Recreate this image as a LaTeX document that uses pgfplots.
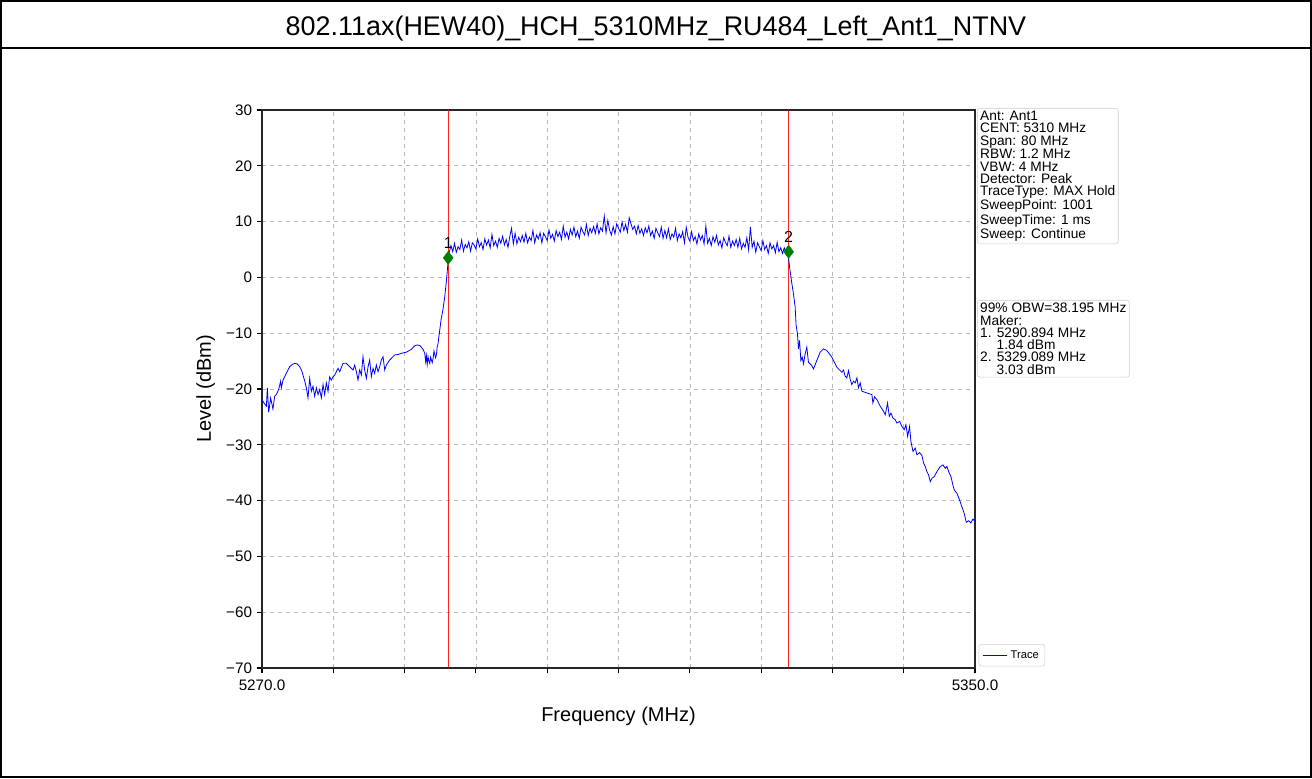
\documentclass[border=0pt]{standalone}
\usepackage{pgfplots}
\usepackage{pgfplotstable}
\pgfplotsset{compat=1.18}
\usepackage{fontspec}
\setmainfont{Liberation Sans}

\pgfplotstableread{
f db
5270.00 -21.9
5270.22 -22.5
5270.49 -23.1
5270.60 -19.8
5270.75 -24.2
5270.97 -21.6
5271.23 -23.6
5271.42 -21.3
5271.61 -21.0
5271.87 -20.1
5272.09 -18.6
5272.17 -19.8
5272.36 -18.4
5272.73 -17.2
5273.11 -16.0
5273.40 -15.6
5273.67 -15.4
5273.95 -15.5
5274.23 -16.0
5274.45 -16.7
5274.60 -17.5
5274.80 -18.6
5274.98 -19.8
5275.16 -21.6
5275.35 -18.1
5275.54 -20.4
5275.72 -19.5
5275.91 -21.3
5276.10 -19.8
5276.29 -21.0
5276.47 -20.1
5276.66 -21.6
5276.85 -19.2
5277.03 -21.0
5277.22 -18.9
5277.41 -20.4
5277.59 -17.8
5277.78 -18.4
5277.97 -17.8
5278.16 -17.5
5278.34 -16.9
5278.53 -16.3
5278.72 -16.9
5279.09 -15.4
5279.46 -15.4
5279.84 -16.0
5280.21 -16.6
5280.40 -15.7
5280.59 -16.9
5280.77 -18.4
5280.96 -16.6
5281.15 -17.5
5281.33 -14.2
5281.52 -16.6
5281.71 -18.1
5281.90 -16.0
5282.08 -14.8
5282.27 -17.8
5282.46 -16.3
5282.64 -17.2
5282.83 -15.7
5283.02 -16.9
5283.21 -16.0
5283.39 -14.8
5283.58 -14.2
5283.77 -16.6
5283.95 -15.7
5284.33 -14.8
5284.89 -13.9
5285.30 -13.8
5285.64 -13.6
5286.20 -13.4
5286.76 -12.9
5287.10 -12.3
5287.40 -12.1
5287.70 -12.2
5287.88 -12.5
5288.10 -13.0
5288.26 -13.6
5288.36 -15.1
5288.44 -14.0
5288.54 -15.6
5288.63 -14.2
5288.73 -15.0
5288.82 -15.4
5288.92 -14.3
5289.01 -14.8
5289.10 -15.3
5289.19 -14.6
5289.30 -13.2
5289.38 -13.8
5289.47 -14.4
5289.57 -13.9
5289.66 -12.4
5289.75 -11.9
5289.85 -10.6
5289.94 -9.5
5290.10 -7.5
5290.30 -5.8
5290.50 -3.5
5290.70 -0.5
5290.85 2.3
5291.00 4.4
5291.2 5.7
5291.4 4.6
5291.6 6.1
5291.8 4.5
5292.0 5.5
5292.2 5.0
5292.4 6.7
5292.6 4.7
5292.8 5.9
5293.0 5.3
5293.2 6.4
5293.4 4.7
5293.6 6.2
5293.8 5.8
5294.0 5.1
5294.2 6.9
5294.4 5.5
5294.6 6.2
5294.8 5.0
5295.0 6.9
5295.2 5.8
5295.4 6.7
5295.6 5.3
5295.8 7.7
5296.0 5.7
5296.2 6.5
5296.4 5.4
5296.6 7.0
5296.8 6.1
5297.0 7.4
5297.2 5.8
5297.4 6.8
5297.6 5.4
5297.8 7.3
5298.0 8.8
5298.2 6.0
5298.4 7.9
5298.6 6.0
5298.8 7.2
5299.0 6.4
5299.2 7.5
5299.4 6.3
5299.6 7.9
5299.8 6.2
5300.0 7.2
5300.2 6.6
5300.4 8.4
5300.6 6.2
5300.8 7.6
5301.0 6.9
5301.2 8.0
5301.4 6.2
5301.6 7.9
5301.8 7.3
5302.0 6.6
5302.2 8.5
5302.4 7.0
5302.6 7.7
5302.8 6.5
5303.0 8.4
5303.2 7.3
5303.4 8.1
5303.6 6.8
5303.8 9.2
5304.0 7.2
5304.2 8.1
5304.4 6.9
5304.6 8.6
5304.8 7.6
5305.0 9.0
5305.2 7.3
5305.4 8.3
5305.6 7.0
5305.8 9.0
5306.0 8.2
5306.2 7.6
5306.4 9.5
5306.6 7.5
5306.8 8.8
5307.0 8.0
5307.2 9.1
5307.4 7.9
5307.6 9.6
5307.8 7.8
5308.0 8.9
5308.2 8.3
5308.4 11.0
5308.6 8.0
5308.8 10.2
5309.0 8.5
5309.2 7.6
5309.4 9.1
5309.6 7.8
5309.8 9.6
5310.0 8.8
5310.2 8.1
5310.4 9.9
5310.6 8.4
5310.8 9.5
5311.0 8.1
5311.2 10.7
5311.4 9.6
5311.6 8.6
5311.8 9.2
5312.0 7.8
5312.2 9.3
5312.4 7.9
5312.6 8.7
5312.8 7.5
5313.0 8.9
5313.2 8.0
5313.4 9.2
5313.6 7.5
5313.8 8.3
5314.0 7.0
5314.2 8.8
5314.4 8.0
5314.6 7.3
5314.8 9.0
5315.0 7.0
5315.2 8.4
5315.4 7.1
5315.6 8.7
5315.8 6.8
5316.0 7.8
5316.2 7.2
5316.4 8.8
5316.6 6.6
5316.8 7.8
5317.0 7.1
5317.2 8.2
5317.4 6.2
5317.6 9.0
5317.8 7.2
5318.0 6.5
5318.2 8.2
5318.4 6.6
5318.6 7.3
5318.8 6.0
5319.0 7.8
5319.2 6.7
5319.4 7.5
5319.6 6.0
5319.8 9.2
5320.0 6.1
5320.2 7.0
5320.4 5.7
5320.6 7.3
5320.8 6.3
5321.0 7.5
5321.2 5.8
5321.4 6.6
5321.6 5.3
5321.8 7.1
5322.0 6.3
5322.2 5.7
5322.4 7.4
5322.6 5.4
5322.8 6.5
5323.0 5.7
5323.2 6.8
5323.4 5.4
5323.6 7.0
5323.8 5.1
5324.0 6.1
5324.2 5.4
5324.4 7.1
5324.6 4.9
5324.8 9.0
5325.0 5.4
5325.2 6.5
5325.4 4.5
5325.6 6.2
5325.8 5.5
5326.0 4.8
5326.2 6.6
5326.4 5.0
5326.6 5.7
5326.8 4.3
5327.0 6.2
5327.2 5.1
5327.4 5.7
5327.6 4.4
5327.8 6.3
5328.0 4.6
5328.2 5.3
5328.4 4.3
5328.6 5.3
5328.8 4.6
5329.00 4.6
5329.19 1.9
5329.45 -1.1
5329.63 -2.9
5329.82 -5.3
5329.93 -8.6
5330.08 -10.1
5330.19 -12.8
5330.31 -11.3
5330.46 -14.9
5330.61 -14.3
5330.76 -15.5
5330.94 -13.7
5331.13 -12.5
5331.31 -15.2
5331.50 -15.5
5331.69 -15.8
5331.88 -16.4
5332.25 -14.9
5332.63 -13.4
5333.00 -12.8
5333.37 -13.1
5333.94 -14.3
5334.50 -16.1
5335.06 -17.0
5335.25 -16.6
5335.43 -17.7
5335.62 -18.0
5335.81 -16.7
5336.00 -18.3
5336.18 -19.2
5336.37 -18.6
5336.56 -18.9
5336.75 -18.0
5336.93 -19.8
5337.12 -18.9
5337.31 -20.4
5337.87 -20.7
5338.43 -21.0
5338.54 -22.5
5338.73 -21.4
5338.99 -21.9
5339.37 -23.1
5339.74 -24.0
5339.93 -24.6
5340.19 -22.5
5340.38 -24.9
5340.57 -24.3
5340.79 -25.2
5341.05 -25.5
5341.24 -26.1
5341.54 -25.8
5341.80 -26.7
5342.06 -27.3
5342.25 -26.4
5342.44 -28.5
5342.66 -26.7
5342.81 -29.4
5343.04 -31.2
5343.30 -30.6
5343.48 -31.8
5343.78 -31.4
5344.04 -31.9
5344.23 -33.3
5344.42 -33.9
5344.60 -34.8
5344.79 -35.4
5344.98 -36.6
5345.17 -36.0
5345.43 -35.7
5345.73 -34.8
5346.10 -33.9
5346.40 -33.6
5346.66 -34.2
5346.85 -33.9
5347.04 -34.8
5347.30 -35.7
5347.52 -37.2
5347.67 -38.1
5347.97 -38.7
5348.27 -39.9
5348.53 -41.1
5348.79 -42.3
5349.02 -43.9
5349.28 -43.6
5349.54 -44.0
5349.77 -43.3
5349.91 -43.6
5350.00 -43.4
}\trace

\begin{document}
\begin{tikzpicture}
\useasboundingbox (0,0) rectangle (984pt,583.5pt);
\draw[line width=1.3pt] (0.65pt,0.65pt) rectangle (983.35pt,582.85pt);
\draw[line width=1.3pt] (0,547.5pt) -- (984pt,547.5pt);
\node[font=\fontsize{20.2}{24}\selectfont] at (492pt,562pt) {802.11ax(HEW40)\_HCH\_5310MHz\_RU484\_Left\_Ant1\_NTNV};

\begin{axis}[
  at={(196.5pt,82.5pt)}, anchor=south west,
  scale only axis, width=534.75pt, height=418.5pt,
  xmin=5270, xmax=5350, ymin=-70, ymax=30,
  xtick={5270,5278,...,5350},
  xticklabels={5270.0,,,,,,,,,,5350.0},
  ytick={-70,-60,...,30},
  yticklabels={−70,−60,−50,−40,−30,−20,−10,0,10,20,30},
  xtick pos=bottom, ytick pos=left,
  tick align=outside,
  major tick length=4pt,
  tick style={black, line width=0.8pt},
  axis line style={black!85, line width=1pt},
  grid=major,
  major grid style={gray!55, dashed, line width=0.45pt},
  ticklabel style={font=\fontsize{11.4}{13}\selectfont},
  xticklabel style={yshift=-1.5pt},
  xlabel={Frequency (MHz)},
  ylabel={Level (dBm)},
  label style={font=\fontsize{15}{18}\selectfont},
  xlabel style={at={(axis description cs:0.5,-0.086)}, anchor=center},
  ylabel style={at={(axis description cs:-0.079,0.5)}, anchor=center, rotate=0},
  legend style={at={(1.005,0.003)}, anchor=south west, draw=gray!40, rounded corners=2pt,
    font=\fontsize{8.4}{10}\selectfont, inner sep=2.5pt},
  legend cell align=left,
  legend image code/.code={\draw[blue, line width=0.9pt] (0cm,0cm) -- (0.65cm,0cm);},
  clip=false,
]
\addplot[red, opacity=0.85, line width=0.7pt, forget plot] coordinates {(5290.894,-70) (5290.894,30)};
\addplot[red, opacity=0.85, line width=0.7pt, forget plot] coordinates {(5329.089,-70) (5329.089,30)};
\addplot[blue, line width=0.6pt, mark=none] table[x=f, y=db] {\trace};
\addlegendentry{Trace}
\addplot[only marks, mark=diamond*, mark size=4.9pt, color=green!50!black, forget plot] coordinates {(5290.894,3.5) (5329.089,4.6)};
\node[font=\fontsize{12}{14}\selectfont] at (axis cs:5290.894,3.5) [yshift=11pt] {1};
\node[font=\fontsize{12}{14}\selectfont] at (axis cs:5329.089,4.6) [yshift=11pt] {2};
\end{axis}

\node[draw=gray!40, rounded corners=2pt, align=left, anchor=north west, inner sep=2.2pt,
  font=\fontsize{10.3}{9.2}\selectfont] at (732.75pt,502.5pt)
  {Ant: Ant1\\CENT: 5310 MHz\\Span: 80 MHz\\RBW: 1.2 MHz\\VBW: 4 MHz\\Detector: Peak\\TraceType: MAX Hold\\SweepPoint: 1001\\SweepTime: 1 ms\\Sweep: Continue};
\node[draw=gray!40, rounded corners=2pt, align=left, anchor=north west, inner sep=2.2pt,
  font=\fontsize{10.3}{9.2}\selectfont] at (732.75pt,358.5pt)
  {99\% OBW=38.195 MHz\\Maker:\\1. 5290.894 MHz\\\hspace*{1.2em}1.84 dBm\\2. 5329.089 MHz\\\hspace*{1.2em}3.03 dBm};
\end{tikzpicture}
\end{document}
